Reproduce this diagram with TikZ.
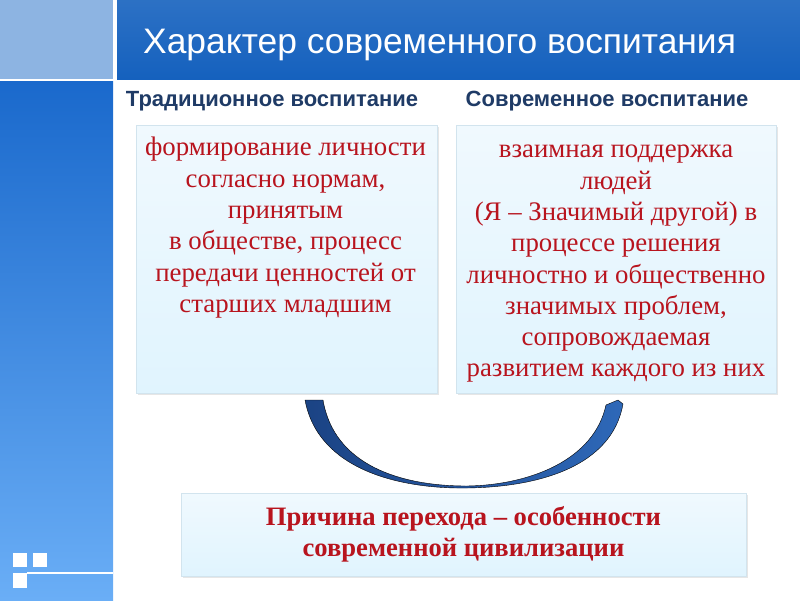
\documentclass[tikz,border=0pt]{standalone}
\usepackage{fontspec}
\setmainfont{Liberation Serif}
\setsansfont{Liberation Sans}
\usetikzlibrary{shadows}

\definecolor{titleblue}{HTML}{1561BE}
\definecolor{paleblue}{HTML}{8DB4E2}
\definecolor{sidetop}{HTML}{1A69CC}
\definecolor{sidebot}{HTML}{6AAEF6}
\definecolor{headblue}{HTML}{1F3B66}
\definecolor{textred}{HTML}{B8141E}
\definecolor{boxtop}{HTML}{F0F9FE}
\definecolor{boxbot}{HTML}{E0F4FE}
\definecolor{boxline}{HTML}{D2E4EE}
\definecolor{arcdark}{HTML}{1B4384}
\definecolor{arclight}{HTML}{2E68B8}

\tikzset{
  infobox/.style={draw=boxline, top color=boxtop, bottom color=boxbot,
    drop shadow={opacity=0.2, shadow xshift=1.5pt, shadow yshift=-1.5pt}},
  boxtext/.style={text=textred, font=\fontsize{26.8}{31.3}\selectfont, align=center, inner sep=0pt},
  headtext/.style={text=headblue, font=\sffamily\bfseries\fontsize{22}{26}\selectfont, inner sep=0pt},
}

\begin{document}
\begin{tikzpicture}[x=1pt, y=-1pt]
    \useasboundingbox (0,0) rectangle (800,600);
    % slide frame
    \fill[paleblue] (0,0) rectangle (113,79);
    \shade[top color=sidetop, bottom color=sidebot] (0,81) rectangle (113,600);
    \shade[top color=titleblue!90!white, bottom color=titleblue] (117,0) rectangle (800,79);
    \draw[white, line width=1.5pt] (27,573) -- (113,573);
    \fill[white] (12.7,552.7) rectangle +(14.6,14.6);
    \fill[white] (32.7,552.7) rectangle +(14.6,14.6);
    \fill[white] (12.7,573) rectangle +(14.6,14.6);
    \node[anchor=base west, text=white, inner sep=0pt, font=\sffamily\fontsize{35.4}{42}\selectfont]
      (title) at (143,53) {Характер современного воспитания};

    % headings
    \node[headtext, anchor=base] (tradhead) at (272,106) {Традиционное воспитание};
    \node[headtext, anchor=base] (modhead) at (607,106) {Современное воспитание};

    % boxes
    \node[infobox, minimum width=301pt, minimum height=268pt] (tradbox) at (286.5,259) {};
    \node[infobox, minimum width=320pt, minimum height=268pt] (modbox) at (616,259) {};
    \node[boxtext, anchor=north] (tradtext) at (285.5,137) {формирование личности\\согласно нормам,\\принятым\\в обществе, процесс\\передачи ценностей от\\старших младшим};
    \node[boxtext, anchor=north] (modtext) at (616,145) {взаимная поддержка\\людей\\(Я – Значимый другой) в\\процессе решения\\личностно и общественно\\значимых проблем,\\сопровождаемая\\развитием каждого из них};

    % curved arrow
    \shade[left color=arcdark, right color=arclight, draw=black, line width=0.4pt]
      (305,400) .. controls (318,470) and (400,489) .. (467,488)
      .. controls (540,487) and (612,466) .. (623,404)
      -- (618,400) -- (606,405)
      .. controls (594,460) and (530,485) .. (467,486)
      .. controls (400,486) and (334,465) .. (323,400) -- cycle;

    % cause box
    \node[infobox, minimum width=565pt, minimum height=83pt] (causebox) at (463.5,534.5) {};
    \node[boxtext, font=\bfseries\fontsize{26.6}{31}\selectfont] (causetext) at (causebox) {Причина перехода – особенности\\современной цивилизации};
\end{tikzpicture}
\end{document}
